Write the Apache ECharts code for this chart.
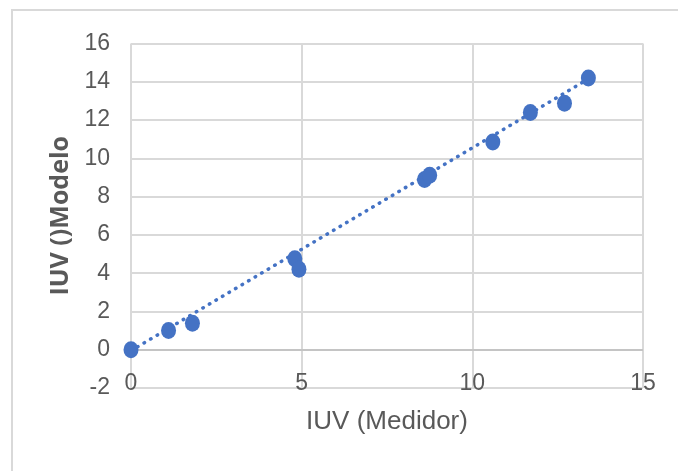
<!DOCTYPE html>
<html>
<head>
<meta charset="utf-8">
<script src="https://cdn.jsdelivr.net/npm/echarts@6/dist/echarts.min.js"></script>
<style>
html,body{margin:0;padding:0;background:#fff;}
#chart{width:678px;height:471px;}
</style>
</head>
<body>
<div id="chart"></div>
<script>
// Data
var medidorX = [0, 1.1, 1.8, 4.8, 4.92, 8.6, 8.75, 10.6, 11.7, 12.7, 13.4];
var modeloY  = [0, 1.0, 1.38, 4.75, 4.2, 8.9, 9.12, 10.85, 12.4, 12.88, 14.2];
// Trendline end points
var trendX = [0, 13.4];
var trendY = [-0.05, 14.15];
var xTicks = [0, 5, 10, 15];
var yTicks = [-2, 0, 2, 4, 6, 8, 10, 12, 14, 16];

var points = medidorX.map(function (x, i) { return [x, modeloY[i]]; });
var trend = trendX.map(function (x, i) { return [x, trendY[i]]; });

var labelFont = "'Liberation Sans Narrow', 'Liberation Sans', sans-serif";
var grey = '#595959';
var gridColor = '#d9d9d9';

var chart = echarts.init(document.getElementById('chart'), null, {renderer: 'canvas'});
chart.setOption({
  animation: false,
  backgroundColor: '#ffffff',
  graphic: [{
    type: 'rect',
    shape: {x: 12, y: 10, width: 720, height: 520},
    style: {fill: 'none', stroke: '#d9d9d9', lineWidth: 2},
    silent: true,
    z: 0
  }],
  grid: {left: 131, right: 35, top: 43.5, bottom: 83, containLabel: false},
  xAxis: {
    type: 'value',
    min: xTicks[0], max: xTicks[xTicks.length - 1], interval: 5,
    name: 'IUV (Medidor)',
    nameLocation: 'middle',
    nameGap: 21,
    nameTextStyle: {fontFamily: labelFont, fontSize: 26, color: grey},
    axisLine: {show: false},
    axisTick: {show: false},
    axisLabel: {fontFamily: labelFont, fontSize: 23, color: grey, margin: -4, verticalAlign: 'middle'},
    splitLine: {show: true, lineStyle: {color: gridColor, width: 2}}
  },
  yAxis: {
    type: 'value',
    min: yTicks[0], max: yTicks[yTicks.length - 1], interval: 2,
    name: 'IUV ()Modelo',
    nameLocation: 'middle',
    nameGap: 48,
    nameRotate: 90,
    nameTextStyle: {fontFamily: "'Open Sans', sans-serif", fontWeight: 'bold', fontSize: 25, color: grey},
    axisLine: {show: false},
    axisTick: {show: false},
    axisLabel: {fontFamily: labelFont, fontSize: 23, color: grey, margin: 21},
    splitLine: {show: true, lineStyle: {color: gridColor, width: 2}}
  },
  series: [{
    type: 'line',
    data: trend,
    symbol: 'none',
    silent: true,
    z: 2,
    lineStyle: {color: '#4472C4', width: 3.5, type: [0.5, 7.1], cap: 'round'},
    markLine: {
      silent: true,
      symbol: 'none',
      label: {show: false},
      lineStyle: {color: '#c4c4c4', width: 2, type: 'solid'},
      data: [{yAxis: 0}],
      z: 1
    }
  }, {
    type: 'scatter',
    data: points,
    symbol: 'circle',
    symbolSize: [15, 17],
    z: 3,
    itemStyle: {color: '#4472C4', opacity: 1}
  }]
});
</script>
</body>
</html>
